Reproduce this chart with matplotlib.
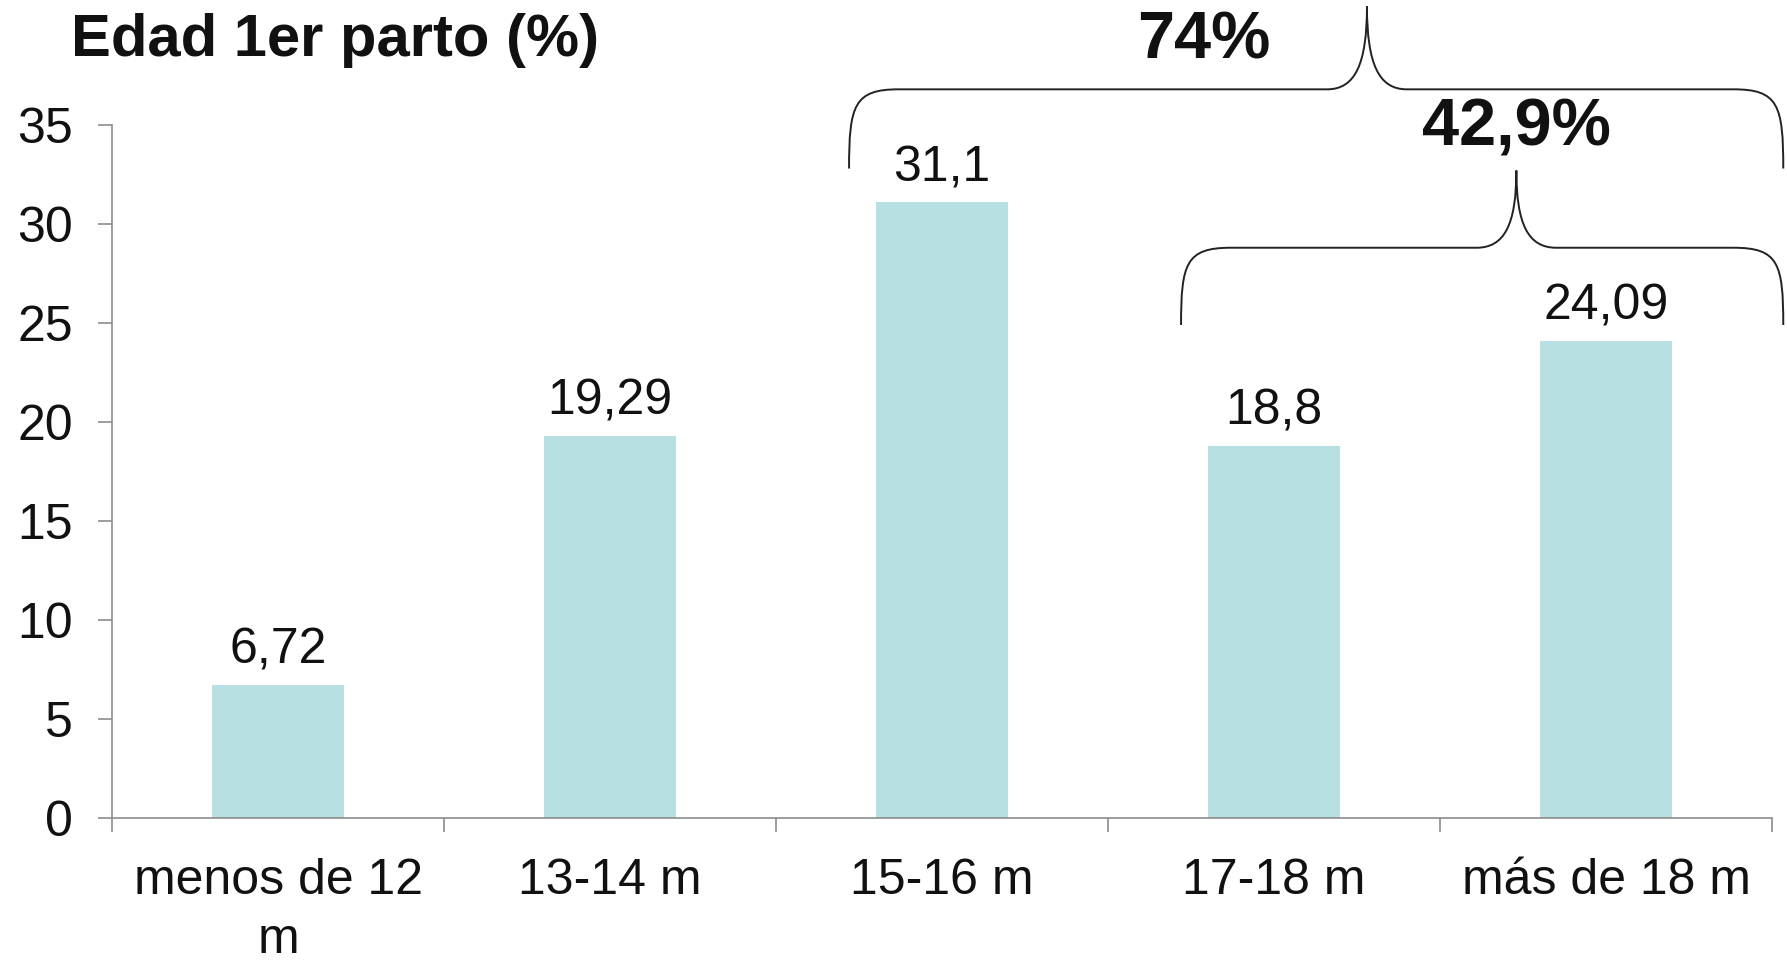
import matplotlib.pyplot as plt
from matplotlib.path import Path
from matplotlib.patches import PathPatch
import numpy as np

plt.rcParams['font.family'] = ['Liberation Sans', 'DejaVu Sans']

# Data
categories = ["menos de 12\nm", "13-14 m", "15-16 m", "17-18 m", "más de 18 m"]
values = [6.72, 19.29, 31.1, 18.8, 24.09]
value_labels = ["6,72", "19,29", "31,1", "18,8", "24,09"]
title = "Edad 1er parto (%)"
group_labels = ["74%", "42,9%"]

bar_color = "#b8dfe2"
axis_color = "#8c8c8c"

fig = plt.figure(figsize=(17.87, 9.65), dpi=100)
ax = fig.add_axes([0.0627, 0.1523, 0.9289, 0.7182])

x = np.arange(len(categories))
ax.bar(x, values, width=0.4, color=bar_color, zorder=2)

for xi, v, lab in zip(x, values, value_labels):
    ax.annotate(lab, (xi, v), xytext=(0, 8), textcoords="offset points",
                ha="center", va="bottom", fontsize=36, color="#111111")

ax.set_xlim(-0.5, len(categories) - 0.5)
ax.set_ylim(0, 35)
ax.set_yticks(np.arange(0, 36, 5))
ax.tick_params(axis="y", labelsize=36, length=10, width=1.2, color=axis_color,
               pad=18, labelcolor="#111111")

# category boundaries as major ticks, labels at centres
ax.set_xticks(np.arange(-0.5, len(categories), 1.0))
ax.set_xticklabels([])
ax.set_xticks(x, minor=True)
ax.set_xticklabels(categories, minor=True, fontsize=36, color="#111111",
                   linespacing=1.35)
ax.tick_params(axis="x", which="major", length=10, width=1.2, color=axis_color)
ax.tick_params(axis="x", which="minor", length=0, pad=29)

for s in ["top", "right"]:
    ax.spines[s].set_visible(False)
for s in ["left", "bottom"]:
    ax.spines[s].set_color(axis_color)
    ax.spines[s].set_linewidth(1.2)


def brace(ax, x0, x1, xt, yb, yh, yt, rx=0.15, rt=0.12):
    # curly brace opening downward, tip at (xt, yt)
    verts = [
        (x0, yb),
        (x0, yh - 0.2 * (yh - yb)), (x0 + 0.1 * rx, yh), (x0 + rx, yh),
        (xt - rt, yh),
        (xt - 0.3 * rt, yh), (xt, yh + 0.3 * (yt - yh)), (xt, yt),
        (xt, yh + 0.3 * (yt - yh)), (xt + 0.3 * rt, yh), (xt + rt, yh),
        (x1 - rx, yh),
        (x1 - 0.1 * rx, yh), (x1, yh - 0.2 * (yh - yb)), (x1, yb),
    ]
    codes = [Path.MOVETO,
             Path.CURVE4, Path.CURVE4, Path.CURVE4,
             Path.LINETO,
             Path.CURVE4, Path.CURVE4, Path.CURVE4,
             Path.CURVE4, Path.CURVE4, Path.CURVE4,
             Path.LINETO,
             Path.CURVE4, Path.CURVE4, Path.CURVE4]
    patch = PathPatch(Path(verts, codes), facecolor="none", edgecolor="#222222",
                      linewidth=1.4, clip_on=False)
    ax.add_patch(patch)


brace(ax, 1.72, 4.534, 3.28, 32.8, 36.8, 41.0)
brace(ax, 2.72, 4.534, 3.73, 24.9, 28.8, 32.7)

ax.text(2.79, 39.2, group_labels[0], ha="center", va="center", fontsize=48,
        fontweight="bold", color="#111111", clip_on=False)
ax.text(3.73, 34.8, group_labels[1], ha="center", va="center", fontsize=48,
        fontweight="bold", color="#111111", clip_on=False)

fig.text(0.0397, 0.958, title, ha="left", va="center", fontsize=43,
         fontweight="bold", color="#111111")

fig.savefig("out.png", dpi=100)
